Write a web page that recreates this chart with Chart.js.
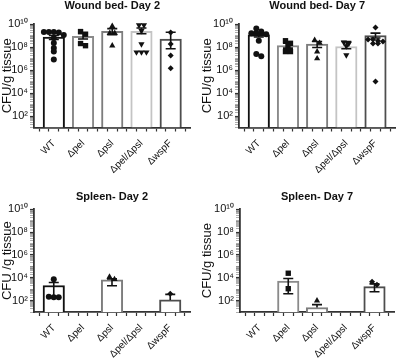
<!DOCTYPE html>
<html>
<head>
<meta charset="utf-8">
<script src="https://cdn.jsdelivr.net/npm/chart.js@4.4.1/dist/chart.umd.min.js"></script>
<style>
  body { margin: 0; background: #fff; }
  #wrap { position: relative; width: 400px; height: 359px; }
  canvas { position: absolute; }
</style>
</head>
<body>
<div id="wrap">
  <canvas id="c1" width="200" height="180" style="left:0;top:0"></canvas>
  <canvas id="c2" width="200" height="180" style="left:200px;top:0"></canvas>
  <canvas id="c3" width="200" height="179" style="left:0;top:180px"></canvas>
  <canvas id="c4" width="200" height="179" style="left:200px;top:180px"></canvas>
</div>
<script>
var categories = ['WT', 'Δpel', 'Δpsl', 'Δpel/Δpsl', 'ΔwspF'];
var barColors = ['#111111', '#8a8a8a', '#7d7d7d', '#c4c4c4', '#4d4d4d'];

// Wound bed - Day 2 (CFU/g tissue)
var woundD2Mean = [7.2e8, 8.3e8, 2.3e9, 2.3e9, 5e8];
var woundD2Lo = [4.5e8, 5e8, 1.2e9, 1.4e9, 7e7];
var woundD2Hi = [1e9, 1.5e9, 4e9, 4.5e9, 1.9e9];
var woundD2Pts = [
  [2e9, 2e9, 2e9, 1.8e9, 1.1e9, 6e8, 2.2e8, 8e7, 4e7, 8e6],
  [2.2e9, 1.3e9, 2e8, 1.3e8],
  [6.5e9, 1.6e9, 1.6e9, 1.3e8],
  [8e9, 8e9, 2.5e9, 1.8e8, 3.5e7, 3.5e7, 3.5e7],
  [1.8e9, 1.8e8, 1.8e7, 1.4e6]
];

// Wound bed - Day 7
var woundD7Mean = [1.15e9, 1.35e8, 1.8e8, 1.1e8, 1e9];
var woundD7Lo = [7.5e8, 8e7, 9e7, 7e7, 6e8];
var woundD7Hi = [1.7e9, 2.1e8, 3e8, 3e8, 1.6e9];
var woundD7Pts = [
  [4e9, 2.2e9, 1.6e9, 1.6e9, 1.6e9, 1.3e9, 3.5e8, 2.5e7, 1.6e7],
  [3.5e8, 2.1e8, 1.3e8, 4e7, 4e7],
  [4e8, 2.2e8, 4e7, 1e7],
  [2.5e8, 2e8, 1.2e8, 2e7],
  [5e9, 4.5e8, 4.5e8, 3.5e8, 3e8, 2e8, 2e8, 1e5]
];

// Spleen - Day 2
var spleenD2Mean = [2.1e3, null, 6.5e3, null, 1.15e2];
var spleenD2Lo = [2e2, null, 2e3, null, null];
var spleenD2Hi = [3.8e3, null, 8e3, null, 3.5e2];
var spleenD2Pts = [
  [7.4e3, 2e2, 2e2, 2.2e2],
  [],
  [1.2e4, 7.4e3],
  [],
  [4e2]
];

// Spleen - Day 7
var spleenD7Mean = [null, 5e3, 25, null, 1.7e3];
var spleenD7Lo = [null, 4e2, null, null, 5.9e2];
var spleenD7Hi = [null, 8.7e3, 44, null, 2.9e3];
var spleenD7Pts = [
  [],
  [2.5e4, 1.1e3],
  [1e2],
  [],
  [4.5e3, 2.5e3]
];

var markers = [
  { style: 'circle', rot: 0, r: 3 },
  { style: 'rect', rot: 0, r: 3.8 },
  { style: 'triangle', rot: 0, r: 3.6 },
  { style: 'triangle', rot: 180, r: 3.6 },
  { style: 'rectRot', rot: 0, r: 3 }
];

Chart.defaults.font.family = "'Liberation Sans', Arial, sans-serif";
Chart.defaults.color = '#111';

var sup = { '0': '⁰', '1': '¹', '2': '²', '4': '⁴', '6': '⁶', '8': '⁸' };

function isMajor(v) {
  var e = Math.log10(v);
  var r = Math.round(e);
  return Math.abs(e - r) < 1e-9 && r % 2 === 0;
}

// points lying close together are put side by side
function spread(values) {
  var sorted = values.slice().sort(function (a, b) { return b - a; });
  var rows = [], row = null;
  sorted.forEach(function (v) {
    var lv = Math.log10(v);
    if (row && row.top - lv < 0.3) row.items.push(v);
    else { row = { top: lv, items: [v] }; rows.push(row); }
  });
  var out = [];
  rows.forEach(function (r) {
    r.items.forEach(function (v, k) {
      out.push({ dx: (k - (r.items.length - 1) / 2) * 0.17, y: v });
    });
  });
  return out;
}

function errorBars(mean, lo, hi) {
  return {
    id: 'errorBars',
    afterDatasetsDraw: function (chart) {
      var xs = chart.scales.x, ys = chart.scales.y, ctx = chart.ctx;
      var bottom = chart.chartArea.bottom;
      ctx.save();
      ctx.strokeStyle = '#111';
      ctx.lineWidth = 1.6;
      for (var i = 0; i < mean.length; i++) {
        if (mean[i] == null) continue;
        var x = xs.getPixelForValue(i);
        var yTop = ys.getPixelForValue(hi[i]);
        var yBot = lo[i] != null ? Math.min(ys.getPixelForValue(lo[i]), bottom) : ys.getPixelForValue(mean[i]);
        ctx.beginPath();
        ctx.moveTo(x, yTop); ctx.lineTo(x, yBot);
        ctx.moveTo(x - 5, yTop); ctx.lineTo(x + 5, yTop);
        if (lo[i] != null && yBot < bottom) { ctx.moveTo(x - 5, yBot); ctx.lineTo(x + 5, yBot); }
        ctx.stroke();
      }
      ctx.restore();
    }
  };
}

function makeChart(id, title, yTitle, mean, lo, hi, pts, box) {
  var datasets = [{
    type: 'bar',
    data: mean.map(function (v, i) { return { x: i, y: v }; }),
    backgroundColor: '#ffffff',
    borderColor: barColors,
    borderWidth: 2,
    barThickness: 21.5,
    order: 2
  }];
  pts.forEach(function (vals, i) {
    datasets.push({
      type: 'scatter',
      data: spread(vals).map(function (p) { return { x: i + p.dx, y: p.y }; }),
      pointStyle: markers[i].style,
      rotation: markers[i].rot,
      pointRadius: markers[i].r,
      backgroundColor: '#111',
      borderColor: '#111',
      borderWidth: 0,
      clip: false,
      order: 1
    });
  });

  new Chart(document.getElementById(id), {
    type: 'bar',
    data: { datasets: datasets },
    plugins: [errorBars(mean, lo, hi)],
    options: {
      responsive: false,
      animation: false,
      layout: { padding: { left: 0, right: box.right, top: 0, bottom: 0 } },
      plugins: {
        legend: { display: false },
        tooltip: { enabled: false },
        title: {
          display: true, text: title, fullSize: false, color: '#111',
          font: { size: 11, weight: 'bold', lineHeight: 1 },
          padding: { top: box.tTop, bottom: box.tBottom }
        }
      },
      scales: {
        x: {
          type: 'linear', min: -0.5, max: 4.5,
          afterBuildTicks: function (s) {
            var t = [];
            for (var k = -1; k <= 13; k++) t.push({ value: k / 3 });
            s.ticks = t;
          },
          afterFit: function (s) { s.height = box.xh; },
          grid: { drawOnChartArea: false, tickLength: 4, tickColor: '#333', tickWidth: 1.2 },
          border: { color: '#333', width: 1.8 },
          ticks: {
            autoSkip: false, maxRotation: 45, minRotation: 45, padding: 6,
            font: { size: 10 },
            callback: function (v) {
              var r = Math.round(v);
              return Math.abs(v - r) < 1e-6 ? categories[r] : '';
            }
          }
        },
        y: {
          type: 'logarithmic', min: 10, max: 1e10,
          afterBuildTicks: function (s) {
            var t = [];
            for (var e = 1; e <= 9; e++) {
              for (var n = 1; n <= 9; n++) t.push({ value: n * Math.pow(10, e) });
            }
            t.push({ value: 1e10 });
            s.ticks = t;
          },
          afterFit: function (s) { s.width = box.yw; },
          grid: {
            drawOnChartArea: false, tickLength: 4,
            tickColor: function (c) { return c.tick && isMajor(c.tick.value) ? '#333' : '#777'; },
            tickWidth: function (c) { return c.tick && isMajor(c.tick.value) ? 1.2 : 0.6; }
          },
          border: { color: '#333', width: 1.8 },
          ticks: {
            autoSkip: false, padding: 2,
            font: { size: 11 },
            callback: function (v) {
              if (!isMajor(v)) return '';
              var e = String(Math.round(Math.log10(v)));
              return '10' + e.split('').map(function (d) { return sup[d]; }).join('');
            }
          },
          title: { display: true, text: yTitle, font: { size: 13, lineHeight: 1.2 }, padding: 0, color: '#111' }
        }
      }
    }
  });
}

makeChart('c1', 'Wound bed- Day 2', 'CFU/g tissue', woundD2Mean, woundD2Lo, woundD2Hi, woundD2Pts,
  { yw: 34, right: 9.5, xh: 52.5, tTop: 0, tBottom: 13 });
makeChart('c2', 'Wound bed- Day 7', 'CFU/g tissue', woundD7Mean, woundD7Lo, woundD7Hi, woundD7Pts,
  { yw: 39, right: 4, xh: 52.5, tTop: 0, tBottom: 13 });
makeChart('c3', 'Spleen- Day 2', 'CFU /g tissue', spleenD2Mean, spleenD2Lo, spleenD2Hi, spleenD2Pts,
  { yw: 34, right: 10, xh: 47, tTop: 11.5, tBottom: 6.8 });
makeChart('c4', 'Spleen- Day 7', 'CFU/g tissue', spleenD7Mean, spleenD7Lo, spleenD7Hi, spleenD7Pts,
  { yw: 40, right: 6, xh: 47, tTop: 11.5, tBottom: 6.8 });
</script>
</body>
</html>
